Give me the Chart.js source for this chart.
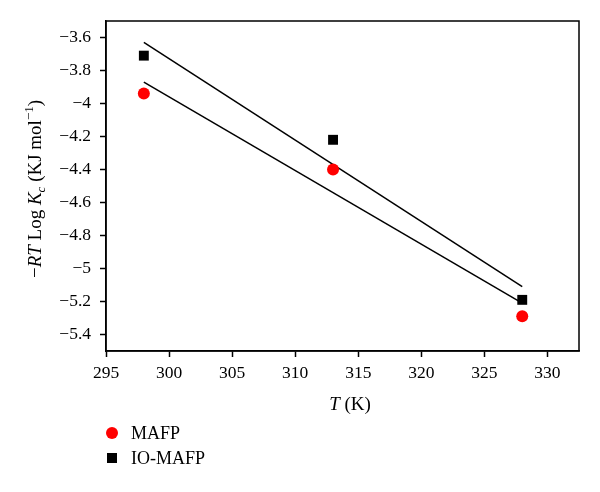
<!DOCTYPE html>
<html lang="en">
<head>
    <meta charset="UTF-8">
    <title>-RT Log Kc vs T</title>
    <script src="https://cdn.jsdelivr.net/npm/chart.js"></script>
    <style>
        body { margin: 0; padding: 0; background: #fff; }
        .wrap { width: 600px; height: 492px; position: relative; }
    </style>
</head>
<body>
    <div class="wrap"><canvas id="kcChart"></canvas></div>

    <script>
        // Values
        const temps = [298, 313, 328];
        const mafp = [-3.94, -4.40, -5.29];
        const ioMafp = [-3.71, -4.22, -5.19];
        // Fit line endpoints
        const fitT = [298, 328];
        const fitMafp = [-3.87, -5.21];
        const fitIoMafp = [-3.63, -5.11];
        const xTicks = [295, 300, 305, 310, 315, 320, 325, 330];
        const yTicks = [-5.4, -5.2, -5, -4.8, -4.6, -4.4, -4.2, -4, -3.8, -3.6];

        const FONT = '"Liberation Serif", "DejaVu Serif", serif';
        const toPts = (xs, ys) => xs.map((x, i) => ({ x: x, y: ys[i] }));
        const minus = v => String(v).replace('-', '\u2212');

        // draw text made of pieces with different styles
        function richWidth(ctx, parts) {
            let w = 0;
            parts.forEach(p => {
                ctx.font = (p.italic ? 'italic ' : '') + p.size + 'px ' + FONT;
                w += ctx.measureText(p.text).width;
            });
            return w;
        }
        function drawRich(ctx, parts, cx, cy, angle) {
            let x = -richWidth(ctx, parts) / 2;
            ctx.save();
            ctx.translate(cx, cy);
            if (angle) ctx.rotate(angle);
            ctx.fillStyle = '#000';
            ctx.textBaseline = 'alphabetic';
            parts.forEach(p => {
                ctx.font = (p.italic ? 'italic ' : '') + p.size + 'px ' + FONT;
                ctx.fillText(p.text, x, 6 + (p.dy || 0));
                x += ctx.measureText(p.text).width;
            });
            ctx.restore();
        }

        const decorations = {
            id: 'decorations',
            afterDraw(chart) {
                const ctx = chart.ctx;
                const a = chart.chartArea;
                // frame round the plot
                ctx.save();
                ctx.strokeStyle = '#000';
                ctx.lineWidth = 1.5;
                ctx.strokeRect(a.left, a.top, a.right - a.left, a.bottom - a.top);
                ctx.restore();

                // axis titles
                drawRich(ctx, [
                    { text: 'T', italic: true, size: 19 },
                    { text: ' (K)', size: 19 }
                ], 350, 404);
                drawRich(ctx, [
                    { text: '\u2212', size: 19 },
                    { text: 'RT', italic: true, size: 19 },
                    { text: ' Log ', size: 19 },
                    { text: 'K', italic: true, size: 19 },
                    { text: 'c', italic: true, size: 13, dy: 4 },
                    { text: ' (KJ mol', size: 19 },
                    { text: '\u22121', size: 13, dy: -8 },
                    { text: ')', size: 19 }
                ], 35, 189, -Math.PI / 2);

                // legend
                const ds = chart.data.datasets;
                ctx.save();
                ctx.fillStyle = ds[0].backgroundColor;
                ctx.beginPath();
                ctx.arc(112, 433, 6, 0, Math.PI * 2);
                ctx.fill();
                ctx.fillStyle = ds[1].backgroundColor;
                ctx.fillRect(107, 453, 10, 10);
                ctx.fillStyle = '#000';
                ctx.font = '18px ' + FONT;
                ctx.textBaseline = 'middle';
                ctx.fillText(ds[0].label, 131, 434);
                ctx.fillText(ds[1].label, 131, 459);
                ctx.restore();
            }
        };

        const ctx = document.getElementById('kcChart').getContext('2d');
        const kcChart = new Chart(ctx, {
            type: 'scatter',
            data: {
                datasets: [
                    {
                        label: 'MAFP',
                        data: toPts(temps, mafp),
                        pointStyle: 'circle',
                        pointRadius: 6,
                        backgroundColor: '#ff0000',
                        borderColor: '#ff0000',
                        borderWidth: 0,
                        order: 0
                    },
                    {
                        label: 'IO-MAFP',
                        data: toPts(temps, ioMafp),
                        pointStyle: 'rect',
                        pointRadius: 7,
                        backgroundColor: '#000000',
                        borderColor: '#000000',
                        borderWidth: 0,
                        order: 0
                    },
                    {
                        label: 'fit MAFP',
                        data: toPts(fitT, fitMafp),
                        showLine: true,
                        pointRadius: 0,
                        borderColor: '#000',
                        borderWidth: 1.5,
                        order: 1
                    },
                    {
                        label: 'fit IO-MAFP',
                        data: toPts(fitT, fitIoMafp),
                        showLine: true,
                        pointRadius: 0,
                        borderColor: '#000',
                        borderWidth: 1.5,
                        order: 1
                    }
                ]
            },
            options: {
                responsive: true,
                maintainAspectRatio: false,
                animation: false,
                layout: { padding: { top: 21, right: 21, left: 0, bottom: 0 } },
                plugins: {
                    legend: { display: false },
                    tooltip: { enabled: false }
                },
                scales: {
                    x: {
                        type: 'linear',
                        min: 295,
                        max: 332.5,
                        afterBuildTicks: axis => { axis.ticks = xTicks.map(v => ({ value: v })); },
                        afterFit: axis => { axis.height = 141; },
                        grid: { drawOnChartArea: false, drawTicks: true, tickLength: 6, color: '#000', tickWidth: 1.5 },
                        border: { display: true, color: '#000', width: 1.5 },
                        ticks: {
                            color: '#000',
                            padding: 6,
                            maxRotation: 0,
                            font: { family: FONT, size: 17.5 },
                            callback: v => minus(v)
                        }
                    },
                    y: {
                        type: 'linear',
                        min: -5.5,
                        max: -3.5,
                        afterBuildTicks: axis => { axis.ticks = yTicks.map(v => ({ value: v })); },
                        afterFit: axis => { axis.width = 106; },
                        grid: { drawOnChartArea: false, drawTicks: true, tickLength: 6, color: '#000', tickWidth: 1.5 },
                        border: { display: true, color: '#000', width: 1.5 },
                        ticks: {
                            color: '#000',
                            padding: 9,
                            font: { family: FONT, size: 17.5 },
                            callback: v => minus(v)
                        }
                    }
                }
            },
            plugins: [decorations]
        });
    </script>
</body>
</html>
